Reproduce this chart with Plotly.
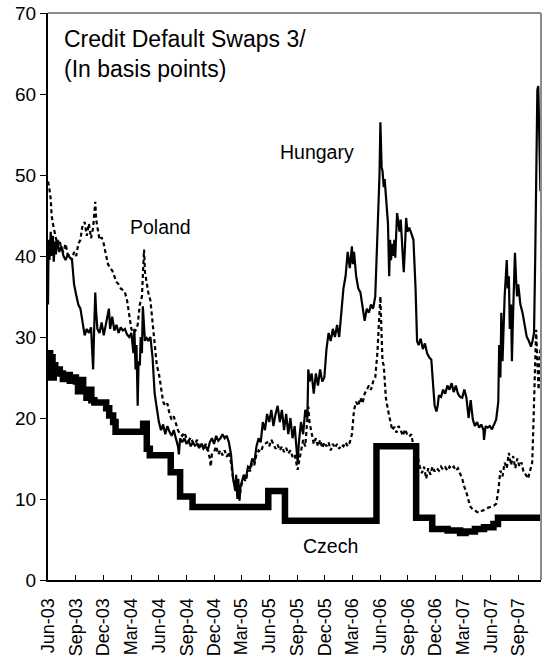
import plotly.graph_objects as go

# ---- Hungary CDS spread (basis points) ----
hungary_dates = [
    "2003-06-01", "2003-06-03", "2003-06-06", "2003-06-10", "2003-06-13", "2003-06-17", "2003-06-20",
    "2003-06-24", "2003-06-27", "2003-07-01", "2003-07-08", "2003-07-15", "2003-07-22", "2003-07-29",
    "2003-08-05", "2003-08-12", "2003-08-19", "2003-08-26", "2003-09-02", "2003-09-09", "2003-09-16",
    "2003-09-23", "2003-09-30", "2003-10-07", "2003-10-14", "2003-10-21", "2003-10-24", "2003-10-28",
    "2003-10-31", "2003-11-04", "2003-11-07", "2003-11-11", "2003-11-18", "2003-11-25", "2003-12-02",
    "2003-12-09", "2003-12-19", "2003-12-23", "2003-12-30", "2004-01-06", "2004-01-13", "2004-01-20",
    "2004-01-27", "2004-02-03", "2004-02-10", "2004-02-17", "2004-02-24", "2004-03-02", "2004-03-09",
    "2004-03-12", "2004-03-16", "2004-03-19", "2004-03-23", "2004-03-26", "2004-03-30", "2004-04-02",
    "2004-04-06", "2004-04-09", "2004-04-13", "2004-04-16", "2004-04-20", "2004-04-27", "2004-05-04",
    "2004-05-11", "2004-05-18", "2004-05-25", "2004-06-01", "2004-06-08", "2004-06-15", "2004-06-22",
    "2004-06-29", "2004-07-06", "2004-07-13", "2004-07-20", "2004-07-27", "2004-08-03", "2004-08-06",
    "2004-08-10", "2004-08-17", "2004-08-24", "2004-08-31", "2004-09-07", "2004-09-14", "2004-09-21",
    "2004-09-28", "2004-10-05", "2004-10-12", "2004-10-19", "2004-10-26", "2004-11-02", "2004-11-09",
    "2004-11-16", "2004-11-23", "2004-11-30", "2004-12-07", "2004-12-14", "2004-12-21", "2004-12-28",
    "2005-01-04", "2005-01-11", "2005-01-18", "2005-01-25", "2005-02-01", "2005-02-08", "2005-02-11",
    "2005-02-15", "2005-02-18", "2005-02-22", "2005-02-25", "2005-03-01", "2005-03-08", "2005-03-15",
    "2005-03-22", "2005-03-29", "2005-04-05", "2005-04-12", "2005-04-19", "2005-04-26", "2005-05-03",
    "2005-05-10", "2005-05-17", "2005-05-24", "2005-05-31", "2005-06-07", "2005-06-14", "2005-06-21",
    "2005-06-28", "2005-07-05", "2005-07-12", "2005-07-19", "2005-07-26", "2005-08-02", "2005-08-09",
    "2005-08-16", "2005-08-23", "2005-09-02", "2005-09-06", "2005-09-13", "2005-09-20", "2005-09-27",
    "2005-10-04", "2005-10-07", "2005-10-11", "2005-10-18", "2005-10-25", "2005-11-01", "2005-11-08",
    "2005-11-15", "2005-11-22", "2005-11-29", "2005-12-06", "2005-12-13", "2005-12-20", "2005-12-27",
    "2006-01-03", "2006-01-10", "2006-01-17", "2006-01-24", "2006-01-31", "2006-02-07", "2006-02-14",
    "2006-02-21", "2006-02-28", "2006-03-03", "2006-03-07", "2006-03-14", "2006-03-21", "2006-03-28",
    "2006-04-04", "2006-04-11", "2006-04-18", "2006-04-25", "2006-05-02", "2006-05-09", "2006-05-16",
    "2006-05-23", "2006-05-30", "2006-06-02", "2006-06-06", "2006-06-09", "2006-06-13", "2006-06-16",
    "2006-06-20", "2006-06-27", "2006-07-01", "2006-07-04", "2006-07-07", "2006-07-11", "2006-07-14",
    "2006-07-18", "2006-07-21", "2006-07-27", "2006-08-01", "2006-08-04", "2006-08-08", "2006-08-11",
    "2006-08-18", "2006-08-22", "2006-08-26", "2006-08-30", "2006-09-05", "2006-09-12", "2006-09-19",
    "2006-09-26", "2006-10-01", "2006-10-06", "2006-10-13", "2006-10-20", "2006-10-27", "2006-11-03",
    "2006-11-10", "2006-11-17", "2006-11-24", "2006-11-28", "2006-12-04", "2006-12-08", "2006-12-12",
    "2006-12-19", "2006-12-26", "2007-01-02", "2007-01-09", "2007-01-16", "2007-01-23", "2007-01-30",
    "2007-02-06", "2007-02-13", "2007-02-20", "2007-02-27", "2007-03-06", "2007-03-13", "2007-03-20",
    "2007-03-27", "2007-04-03", "2007-04-10", "2007-04-17", "2007-04-24", "2007-05-01", "2007-05-08",
    "2007-05-10", "2007-05-15", "2007-05-22", "2007-05-29", "2007-06-05", "2007-06-12", "2007-06-19",
    "2007-06-26", "2007-06-29", "2007-07-03", "2007-07-06", "2007-07-10", "2007-07-13", "2007-07-17",
    "2007-07-24", "2007-07-27", "2007-07-31", "2007-08-03", "2007-08-07", "2007-08-10", "2007-08-14",
    "2007-08-20", "2007-08-24", "2007-08-27", "2007-08-31", "2007-09-07", "2007-09-14", "2007-09-21",
    "2007-09-28", "2007-10-05", "2007-10-12", "2007-10-17", "2007-10-22", "2007-10-26", "2007-10-30",
    "2007-11-02", "2007-11-05", "2007-11-08", "2007-11-12",
]
hungary_values = [
    34, 42, 39.5, 43, 40, 42.5, 39.3,
    41.8, 40.2, 42, 40.5, 41.2, 40, 39.5,
    40.2, 39.8, 39.6, 36.5, 35.2, 34, 33.5,
    31.5, 30.2, 31, 30.5, 31.2, 29.5, 26.0,
    30.5, 35.5, 33, 31, 30.5, 31.8, 30.2,
    31.5, 33.5, 31, 32.5, 30.8, 31.5, 30.5,
    31.2, 30.8, 31, 30.3, 30, 30.5, 28,
    31, 26, 29, 21.5, 27, 26.5, 30,
    28, 33.8, 31, 29.5, 30, 29.5, 30,
    27.5, 23, 21, 19.5, 18.5, 19.2, 18,
    19, 18.3, 17.8, 18.5, 17.5, 16.5, 15.5,
    17.5, 17, 17.5, 16.8, 17.2, 16.5, 17,
    16.6, 16.8, 16.3, 16.8, 16.2, 16.5, 16,
    17, 17.5, 16.8, 17.8, 17.2, 17.5, 18,
    17.5, 17.8, 17, 15.5, 12.5, 11, 13,
    10, 12.5, 9.8, 11.5, 12, 13, 12.5,
    14, 13.8, 15, 14.5, 16.5, 17.5, 17,
    19.5, 18.5, 20.5, 19.5, 21, 19, 20.5,
    21.5, 19.5, 21, 18.5, 20.5, 18, 20,
    17.5, 19, 14.5, 17, 19.5, 18, 21,
    20, 26, 24.5, 25.5, 23, 25.5, 24,
    26, 24.5, 25, 28.5, 30.5, 29.5, 31,
    30, 31.5, 30, 33, 36, 37.5, 40.5,
    38.5, 41.2, 39, 40.5, 37.5, 36, 35.5,
    34, 32, 33.5, 33, 34, 33.5, 35,
    43, 50, 56.5, 51, 50.5, 48.5, 49.5,
    47, 44, 37.5, 42, 39.5, 41.5, 40,
    42, 39.8, 45.3, 44, 43, 44.5, 42,
    38, 41, 44.7, 43, 43.5, 42.8, 42,
    36, 29.5, 29, 29.8, 28.5, 29.2, 28,
    27.5, 27.2, 24, 21.5, 20.8, 21.5, 22.8,
    22.6, 23.5, 23, 24, 23.5, 24.3, 23.2,
    24, 23, 22.6, 22.5, 23.5, 22.5, 20,
    22.2, 19.8, 19, 19.5, 18.8, 19.2, 18.5,
    17.3, 19, 18.8, 19, 18.6, 19.2, 19.8,
    22, 29, 25, 33, 27, 32, 35,
    39.5, 36, 37.5, 31, 34, 27, 33,
    40.4, 37, 35, 36.5, 34, 33, 31.5,
    30, 29.5, 28.8, 29.5, 30.5, 40, 52,
    60.5, 61, 55, 48,
]

# ---- Poland CDS spread (basis points) ----
poland_dates = [
    "2003-06-01", "2003-06-05", "2003-06-10", "2003-06-13", "2003-06-17", "2003-06-24", "2003-07-01",
    "2003-07-08", "2003-07-15", "2003-07-22", "2003-07-29", "2003-08-05", "2003-08-12", "2003-08-19",
    "2003-08-26", "2003-09-02", "2003-09-09", "2003-09-16", "2003-09-23", "2003-09-30", "2003-10-07",
    "2003-10-14", "2003-10-21", "2003-10-28", "2003-11-04", "2003-11-07", "2003-11-11", "2003-11-18",
    "2003-11-25", "2003-12-02", "2003-12-09", "2003-12-16", "2003-12-23", "2003-12-30", "2004-01-06",
    "2004-01-13", "2004-01-20", "2004-01-27", "2004-02-03", "2004-02-10", "2004-02-17", "2004-02-24",
    "2004-03-02", "2004-03-09", "2004-03-16", "2004-03-23", "2004-03-30", "2004-04-06", "2004-04-13",
    "2004-04-16", "2004-04-20", "2004-04-27", "2004-05-04", "2004-05-11", "2004-05-18", "2004-05-25",
    "2004-06-01", "2004-06-08", "2004-06-15", "2004-06-22", "2004-06-29", "2004-07-06", "2004-07-13",
    "2004-07-20", "2004-07-27", "2004-08-03", "2004-08-10", "2004-08-17", "2004-08-24", "2004-08-31",
    "2004-09-07", "2004-09-14", "2004-09-21", "2004-09-28", "2004-10-05", "2004-10-12", "2004-10-19",
    "2004-10-26", "2004-11-02", "2004-11-09", "2004-11-16", "2004-11-19", "2004-11-23", "2004-11-30",
    "2004-12-07", "2004-12-14", "2004-12-21", "2004-12-28", "2005-01-04", "2005-01-11", "2005-01-18",
    "2005-01-25", "2005-02-01", "2005-02-08", "2005-02-15", "2005-02-22", "2005-03-01", "2005-03-08",
    "2005-03-15", "2005-03-22", "2005-03-29", "2005-04-05", "2005-04-12", "2005-04-19", "2005-04-26",
    "2005-05-03", "2005-05-10", "2005-05-17", "2005-05-24", "2005-05-31", "2005-06-07", "2005-06-14",
    "2005-06-21", "2005-06-28", "2005-07-05", "2005-07-12", "2005-07-19", "2005-07-26", "2005-08-02",
    "2005-08-09", "2005-08-16", "2005-08-23", "2005-08-30", "2005-09-02", "2005-09-06", "2005-09-13",
    "2005-09-20", "2005-09-27", "2005-10-04", "2005-10-07", "2005-10-11", "2005-10-18", "2005-10-25",
    "2005-11-01", "2005-11-08", "2005-11-15", "2005-11-22", "2005-11-29", "2005-12-06", "2005-12-13",
    "2005-12-20", "2005-12-27", "2006-01-03", "2006-01-10", "2006-01-17", "2006-01-24", "2006-01-31",
    "2006-02-07", "2006-02-14", "2006-02-21", "2006-02-28", "2006-03-07", "2006-03-14", "2006-03-21",
    "2006-03-28", "2006-04-04", "2006-04-11", "2006-04-18", "2006-04-25", "2006-05-02", "2006-05-09",
    "2006-05-16", "2006-05-23", "2006-05-30", "2006-06-02", "2006-06-06", "2006-06-09", "2006-06-13",
    "2006-06-16", "2006-06-20", "2006-06-27", "2006-07-04", "2006-07-11", "2006-07-18", "2006-07-25",
    "2006-08-01", "2006-08-08", "2006-08-15", "2006-08-22", "2006-08-29", "2006-09-05", "2006-09-12",
    "2006-09-19", "2006-09-26", "2006-10-03", "2006-10-10", "2006-10-17", "2006-10-24", "2006-10-31",
    "2006-11-07", "2006-11-14", "2006-11-21", "2006-11-28", "2006-12-05", "2006-12-12", "2006-12-19",
    "2006-12-26", "2007-01-02", "2007-01-09", "2007-01-16", "2007-01-23", "2007-01-30", "2007-02-06",
    "2007-02-13", "2007-02-20", "2007-02-27", "2007-03-06", "2007-03-13", "2007-03-20", "2007-03-27",
    "2007-04-03", "2007-04-10", "2007-04-17", "2007-04-24", "2007-05-01", "2007-05-08", "2007-05-15",
    "2007-05-22", "2007-05-29", "2007-06-05", "2007-06-12", "2007-06-19", "2007-06-26", "2007-07-03",
    "2007-07-10", "2007-07-17", "2007-07-24", "2007-07-31", "2007-08-07", "2007-08-14", "2007-08-21",
    "2007-08-28", "2007-09-04", "2007-09-11", "2007-09-18", "2007-09-25", "2007-10-02", "2007-10-09",
    "2007-10-16", "2007-10-19", "2007-10-24", "2007-10-29", "2007-11-02", "2007-11-06", "2007-11-10",
    "2007-11-13",
]
poland_values = [
    49.2, 48.5, 47, 45, 44, 42.5, 41.5,
    42, 41, 40.5, 41.5, 40.2, 40, 39.5,
    40.5, 40, 41.5, 42, 43.8, 44.2, 42.5,
    44, 42.2, 43.5, 46.7, 44.5, 43.5, 42,
    42.3, 41.5, 40.2, 39, 38.5, 38.2, 37.5,
    36.8, 36.5, 36, 35.8, 35.5, 34.5, 32.5,
    31, 30.5, 30.8, 31.5, 34, 35, 40.8,
    38, 37, 35.5, 34.5, 32, 29, 26.5,
    25.5, 23.5, 22, 21.5, 21.8, 20.5, 19.8,
    20.2, 19.4, 18.5, 18, 17.8, 18.2, 17.5,
    17.2, 17.6, 17, 16.8, 17.3, 16.5, 16.9,
    16.3, 16.8, 16.2, 15, 14, 15.5, 15.8,
    16.5, 15.5, 16, 15.4, 16, 15.2, 15.8,
    14.5, 12.5, 11.5, 10.5, 10.3, 11.8, 12.5,
    12.2, 13.5, 13.5, 14.5, 14.2, 15.5, 16,
    15.8, 16.5, 16.8, 17, 16.5, 17.3, 16.8,
    16.2, 16.7, 16, 16.5, 15.8, 16.3, 15.6,
    16, 15.2, 15.5, 14.2, 13.6, 14.5, 16,
    17.3, 16.5, 19.8, 21.4, 19.5, 18, 16.8,
    17.5, 16.5, 17.3, 16.3, 17, 16.5, 17,
    16, 16.8, 16.3, 16.8, 16.2, 16.7, 16.5,
    17, 16.5, 17, 18, 21, 22, 21.5,
    22.5, 21.8, 23, 23.5, 24, 23.5, 24.5,
    25, 28, 33, 35, 30, 27, 26.5,
    24, 22.5, 21, 19.8, 18.5, 18.9, 18.2,
    19, 18.5, 17.8, 18.6, 18, 17.7, 18,
    16.5, 15.7, 15.2, 14, 13.2, 14, 12.5,
    13.8, 13, 14, 13.4, 13.8, 13.5, 14,
    13.6, 13.9, 13.5, 14, 13.7, 14, 13.5,
    13.8, 13.2, 12.5, 11.5, 10.8, 9.8, 9,
    8.7, 8.6, 8.4, 8.3, 8.5, 8.6, 8.8,
    8.9, 9, 9.1, 9.2, 9.4, 11, 13.5,
    12.8, 14.5, 13.8, 15.7, 14.2, 15.3, 13.8,
    15, 14, 14.5, 13.2, 13, 12.5, 13.5,
    14.5, 18, 24.7, 30.9, 27, 23.5, 28,
    28.5,
]

# ---- Czech CDS spread (basis points), quoted in steps ----
czech_dates = [
    "2003-06-01", "2003-06-03", "2003-06-08", "2003-06-12", "2003-06-16", "2003-06-20", "2003-06-25",
    "2003-07-01", "2003-07-10", "2003-07-20", "2003-08-01", "2003-08-12", "2003-08-22", "2003-09-01",
    "2003-09-08", "2003-09-15", "2003-09-25", "2003-10-06", "2003-10-15", "2003-10-22", "2003-11-01",
    "2003-12-10", "2003-12-20", "2004-01-02", "2004-01-10", "2004-04-10", "2004-04-22", "2004-05-02",
    "2004-07-10", "2004-08-10", "2004-09-20", "2005-05-28", "2005-07-22", "2006-05-20", "2006-09-28",
    "2006-11-20", "2007-01-10", "2007-02-20", "2007-03-10", "2007-04-10", "2007-05-10", "2007-06-10",
    "2007-06-25", "2007-11-14",
]
czech_values = [
    25, 28, 25.5, 27.5, 25, 26.5, 25.5,
    26, 25.5, 24.8, 25.3, 24.6, 25, 24.5,
    23.3, 24.7, 23.5, 22.5, 23.5, 22.2, 21.9,
    21.2, 20.3, 19.5, 18.3, 19.3, 16.2, 15.4,
    13.3, 10.3, 9.0, 11.0, 7.3, 16.5, 7.7,
    6.3, 6.1, 5.8, 6.0, 6.3, 6.5, 6.9,
    7.7, 7.7,
]

# ---- Axis ticks ----
tick_dates = [
    "2003-06-01", "2003-09-01", "2003-12-01", "2004-03-01", "2004-06-01", "2004-09-01",
    "2004-12-01", "2005-03-01", "2005-06-01", "2005-09-01", "2005-12-01", "2006-03-01",
    "2006-06-01", "2006-09-01", "2006-12-01", "2007-03-01", "2007-06-01", "2007-09-01",
]
tick_labels = [
    "Jun-03", "Sep-03", "Dec-03", "Mar-04", "Jun-04", "Sep-04",
    "Dec-04", "Mar-05", "Jun-05", "Sep-05", "Dec-05", "Mar-06",
    "Jun-06", "Sep-06", "Dec-06", "Mar-07", "Jun-07", "Sep-07",
]
y_ticks = [0, 10, 20, 30, 40, 50, 60, 70]

FONT = "Liberation Sans, Arial, sans-serif"

fig = go.Figure()
fig.add_trace(go.Scatter(
    x=poland_dates, y=poland_values, mode="lines", name="Poland",
    line=dict(color="black", width=2.2, dash="4px,3px"),
))
fig.add_trace(go.Scatter(
    x=hungary_dates, y=hungary_values, mode="lines", name="Hungary",
    line=dict(color="black", width=2.2),
))
fig.add_trace(go.Scatter(
    x=czech_dates, y=czech_values, mode="lines", name="Czech",
    line=dict(color="black", width=6.5, shape="hv"),
))

# top and right frame of the plotting area
fig.add_shape(type="line", xref="x domain", yref="y domain", x0=0, x1=1, y0=1, y1=1,
              line=dict(color="#8c8c8c", width=2))
fig.add_shape(type="line", xref="x domain", yref="y domain", x0=1, x1=1, y0=0, y1=1,
              line=dict(color="#8c8c8c", width=2))

fig.add_annotation(xref="paper", yref="paper", x=0.028, y=0.981, xanchor="left", yanchor="top",
                   text="Credit Default Swaps 3/<br>(In basis points)", showarrow=False, align="left",
                   font=dict(family=FONT, size=23, color="black"))
fig.add_annotation(x="2004-06-07", y=43.6, text="Poland", showarrow=False, xanchor="center",
                   font=dict(family=FONT, size=19.5, color="black"))
fig.add_annotation(x="2005-11-04", y=52.9, text="Hungary", showarrow=False, xanchor="center",
                   font=dict(family=FONT, size=19.5, color="black"))
fig.add_annotation(x="2005-12-20", y=4.2, text="Czech", showarrow=False, xanchor="center",
                   font=dict(family=FONT, size=19.5, color="black"))

fig.update_layout(
    width=548, height=659,
    margin=dict(l=48, r=7, t=13, b=79, autoexpand=False),
    paper_bgcolor="white", plot_bgcolor="white",
    showlegend=False,
    font=dict(family=FONT, size=19, color="black"),
)
fig.update_xaxes(
    type="date", range=["2003-06-01", "2007-11-14"], automargin=False,
    tickmode="array", tickvals=tick_dates, ticktext=tick_labels, tickangle=-90,
    ticks="inside", ticklen=5, tickwidth=1, tickcolor="black",
    showline=True, linecolor="black", linewidth=2, showgrid=False, zeroline=False,
    tickfont=dict(family=FONT, size=18, color="black"), ticklabelstandoff=9,
)
fig.update_yaxes(
    range=[0, 70], tickmode="array", tickvals=y_ticks, automargin=False,
    ticks="outside", ticklen=6, tickwidth=1, tickcolor="black",
    showline=True, linecolor="black", linewidth=2, showgrid=False, zeroline=False,
    tickfont=dict(family=FONT, size=19, color="black"),
)

fig.write_html("out.html")
